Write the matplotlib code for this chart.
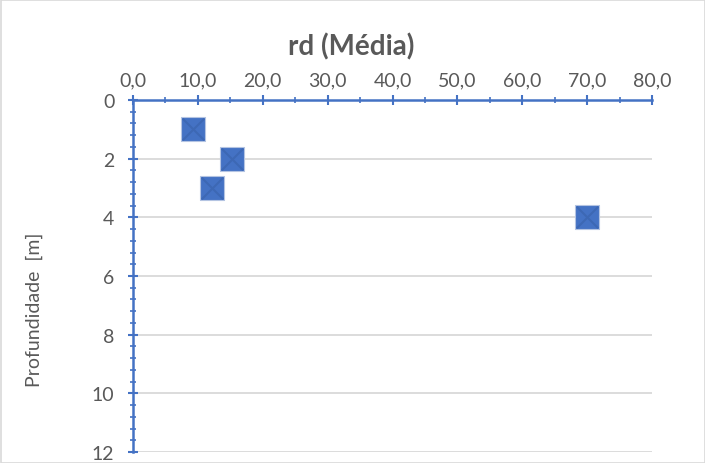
import matplotlib
matplotlib.use("Agg")
import matplotlib.pyplot as plt
from matplotlib.ticker import MultipleLocator, FuncFormatter
from matplotlib.patches import Rectangle

rd_media = [9.3, 15.2, 12.2, 70.0]
profundidade = [1, 2, 3, 4]
x_ticks = [0, 10, 20, 30, 40, 50, 60, 70, 80]
y_ticks = [0, 2, 4, 6, 8, 10, 12]

plt.rcParams['font.family'] = ['Lato', 'DejaVu Sans']
W, H = 705, 464
fig = plt.figure(figsize=(W/100, H/100), dpi=100)
ax = fig.add_axes([133/W, 1-453/H, (652-133)/W, (453-101)/H])

axis_col = '#4472C4'
txt_col = '#595959'

ax.set_xlim(0, 80)
ax.set_ylim(12, 0)
ax.xaxis.tick_top()
ax.xaxis.set_label_position('top')
ax.set_xticks(x_ticks)
ax.set_yticks(y_ticks)
ax.xaxis.set_minor_locator(MultipleLocator(5))
ax.yaxis.set_minor_locator(MultipleLocator(0.4))
ax.xaxis.set_major_formatter(FuncFormatter(lambda v, p: f"{v:.1f}".replace('.', ',')))

for s in ['right', 'bottom']:
    ax.spines[s].set_visible(False)
for s in ['top', 'left']:
    ax.spines[s].set_color(axis_col)
    ax.spines[s].set_linewidth(1.8)

ax.tick_params(axis='both', which='major', direction='inout', length=7, width=1.5,
               color=axis_col, labelcolor=txt_col, labelsize=14)
ax.tick_params(axis='x', which='major', pad=5)
ax.tick_params(axis='y', which='major', pad=10)
ax.tick_params(axis='both', which='minor', direction='inout', length=4, width=1.2, color=axis_col)

ax.yaxis.grid(True, which='major', color='#D9D9D9', linewidth=1.3)
ax.set_axisbelow(True)

ax.scatter(rd_media, profundidade, marker='s', s=310, color='#4472C4',
           edgecolors='#B4C4E2', linewidths=0.8, zorder=3)
ax.scatter(rd_media, profundidade, marker='x', s=240, color='#3D68B4',
           linewidths=1.5, zorder=4)

fig.text(351/W, 1-47/H, 'rd (Média)', fontsize=20, fontweight='bold', color=txt_col,
         ha='center', va='center')
fig.text(34/W, 1-310/H, 'Profundidade  [m]', fontsize=14, color=txt_col,
         ha='center', va='center', rotation=90)

fig.patches.append(Rectangle((0.5/W, 0.5/H), 1-1/W, 1-1/H, transform=fig.transFigure,
                             fill=False, edgecolor='#D9D9D9', linewidth=1.2))

fig.savefig('out.png', dpi=100)
